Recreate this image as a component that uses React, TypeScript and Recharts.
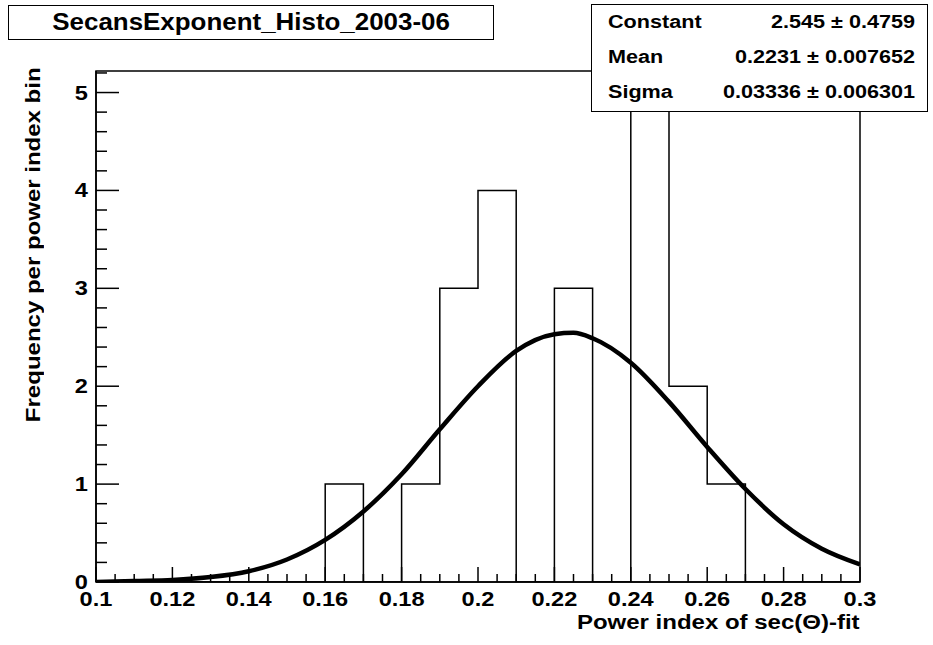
import { LineChart, Line, XAxis, YAxis, ReferenceArea } from "recharts";

// histogram: low edge of each bin (width 0.01) and its count
const binLowEdges = [
  0.1, 0.11, 0.12, 0.13, 0.14, 0.15, 0.16, 0.17, 0.18, 0.19,
  0.2, 0.21, 0.22, 0.23, 0.24, 0.25, 0.26, 0.27, 0.28, 0.29,
];
const binCounts = [0, 0, 0, 0, 0, 0, 1, 0, 1, 3, 4, 0, 3, 0, 5, 2, 1, 0, 0, 0];
const lastEdge = 0.3;

// gaussian fit curve
const fitX = [
  0.1, 0.11, 0.12, 0.13, 0.14, 0.15, 0.16, 0.17, 0.18, 0.19, 0.2,
  0.21, 0.22, 0.225, 0.23, 0.24, 0.25, 0.26, 0.27, 0.28, 0.29, 0.3,
];
const fitY = [
  0.0, 0.01, 0.02, 0.05, 0.11, 0.23, 0.43, 0.72, 1.1, 1.56, 2.0,
  2.36, 2.53, 2.545, 2.49, 2.24, 1.84, 1.38, 0.95, 0.59, 0.34, 0.18,
];

const xMajorTicks = [0.1, 0.12, 0.14, 0.16, 0.18, 0.2, 0.22, 0.24, 0.26, 0.28, 0.3];
const yMajorTicks = [0, 1, 2, 3, 4, 5];
const yMax = 5.22;

const statNames = ["Constant", "Mean", "Sigma"];
const statValues = ["2.545", "0.2231", "0.03336"];
const statErrors = ["0.4759", "0.007652", "0.006301"];

const histData = [
  ...binLowEdges.map((x, i) => ({ x, count: binCounts[i] })),
  { x: lastEdge, count: 0 },
];
const fitData = fitX.map((x, i) => ({ x, y: fitY[i] }));

// minor ticks between the major ones
const subdivide = (majors: number[], n: number, extra: number[] = []) => {
  const out: number[] = [];
  majors.forEach((m, i) => {
    out.push(m);
    if (i < majors.length - 1) {
      const step = (majors[i + 1] - m) / n;
      for (let k = 1; k < n; k++) out.push(Number((m + k * step).toFixed(5)));
    }
  });
  return [...out, ...extra];
};
const xTicks = subdivide(xMajorTicks, 4);
const yTicks = subdivide(yMajorTicks, 5, [5.2]);

const FONT = "'Liberation Sans', Arial, Helvetica, sans-serif";
const isMajor = (v: number, majors: number[]) => majors.some((m) => Math.abs(m - v) < 1e-6);

const labelStyle = {
  transform: "scaleX(1.18)",
  transformBox: "fill-box",
  transformOrigin: "center",
} as any;

function XTick(props: any) {
  const { x, y, payload } = props;
  const major = isMajor(payload.value, xMajorTicks);
  return (
    <g>
      <line x1={x} y1={y} x2={x} y2={y - (major ? 15 : 8)} stroke="#000" strokeWidth={1.5} />
      {major && (
        <text x={x} y={y + 24} textAnchor="middle" fontFamily={FONT} fontWeight="bold" fontSize={20} fill="#000" style={labelStyle}>
          {String(payload.value)}
        </text>
      )}
    </g>
  );
}

function YTick(props: any) {
  const { x, y, payload } = props;
  const major = isMajor(payload.value, yMajorTicks);
  return (
    <g>
      <line x1={x} y1={y} x2={x + (major ? 23 : 11)} y2={y} stroke="#000" strokeWidth={1.5} />
      {major && (
        <text x={x - 8} y={y + 7} textAnchor="end" fontFamily={FONT} fontWeight="bold" fontSize={20} fill="#000" style={{ ...labelStyle, transformOrigin: "right" }}>
          {String(payload.value)}
        </text>
      )}
    </g>
  );
}

export default function App() {
  return (
    <div style={{ position: "absolute", left: 0, top: 0, width: 933, height: 645, background: "#fff", fontFamily: FONT, fontWeight: "bold", color: "#000" }}>
      <LineChart width={933} height={645} margin={{ top: 71, right: 73, bottom: 53, left: 86 }}>
        <XAxis
          dataKey="x"
          type="number"
          domain={[0.1, 0.3]}
          ticks={xTicks}
          interval={0}
          height={10}
          tickSize={0}
          tickMargin={0}
          tickLine={false}
          tick={<XTick />}
          axisLine={{ stroke: "#000", strokeWidth: 1.5 }}
          allowDataOverflow
        />
        <YAxis
          type="number"
          domain={[0, yMax]}
          ticks={yTicks}
          interval={0}
          width={10}
          tickSize={0}
          tickMargin={0}
          tickLine={false}
          tick={<YTick />}
          axisLine={{ stroke: "#000", strokeWidth: 1.5 }}
          allowDataOverflow
        />
        <ReferenceArea x1={0.1} x2={0.3} y1={0} y2={yMax} fill="none" stroke="#000" strokeWidth={1.5} />
        <Line
          data={histData}
          dataKey="count"
          type="stepAfter"
          stroke="#000"
          strokeWidth={1.5}
          dot={false}
          activeDot={false}
          isAnimationActive={false}
        />
        <Line
          data={fitData}
          dataKey="y"
          type="monotone"
          stroke="#000"
          strokeWidth={4.5}
          dot={false}
          activeDot={false}
          isAnimationActive={false}
        />
      </LineChart>

      {/* title box */}
      <div style={{ position: "absolute", left: 8, top: 5, width: 486, height: 35, boxSizing: "border-box", border: "1.5px solid #000", background: "#fff", textAlign: "center", fontSize: 24, lineHeight: "32px" }}>
        <span style={{ display: "inline-block", transform: "scaleX(1.08)" }}>SecansExponent_Histo_2003-06</span>
      </div>

      {/* fit statistics */}
      <div style={{ position: "absolute", left: 591, top: 4, width: 337, height: 108, boxSizing: "border-box", border: "1.5px solid #000", background: "#fff", fontSize: 18 }}>
        {statNames.map((name, i) => (
          <div key={name} style={{ position: "relative", height: 35, lineHeight: "35px" }}>
            <span style={{ position: "absolute", left: 16, display: "inline-block", transform: "scaleX(1.2)", transformOrigin: "left center" }}>{name}</span>
            <span style={{ position: "absolute", right: 12, display: "inline-block", whiteSpace: "pre", transform: "scaleX(1.2)", transformOrigin: "right center" }}>
              {statValues[i]} ± {statErrors[i]}
            </span>
          </div>
        ))}
      </div>

      {/* axis titles */}
      <div style={{ position: "absolute", left: 33 - 200, top: 267 - 12, width: 400, height: 24, lineHeight: "24px", fontSize: 20, textAlign: "right", transform: "rotate(-90deg)" }}>
        <span style={{ display: "inline-block", transform: "scaleX(1.2)", transformOrigin: "right center" }}>Frequency per power index bin</span>
      </div>
      <div style={{ position: "absolute", left: 460, top: 610, width: 400, height: 24, lineHeight: "24px", fontSize: 20, textAlign: "right" }}>
        <span style={{ display: "inline-block", transform: "scaleX(1.2)", transformOrigin: "right center" }}>Power index of sec(Θ)-fit</span>
      </div>
    </div>
  );
}
